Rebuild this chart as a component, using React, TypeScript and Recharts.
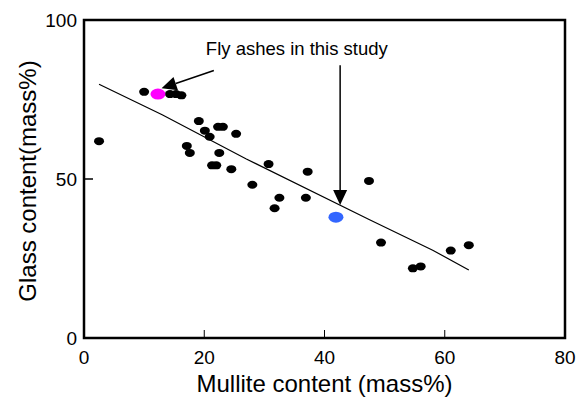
import React from 'react';
import {
  ScatterChart,
  Scatter,
  XAxis,
  YAxis,
  ReferenceArea,
  ReferenceLine,
  ReferenceDot,
} from 'recharts';

// literature fly ashes
const mulliteX = [2.5, 10, 14.3, 15.3, 16.2, 19.1, 20.1, 20.9, 22.3, 23.1, 25.3, 17.1, 17.6, 22.5, 21.3, 22.0, 24.5, 30.7, 28, 32.5, 31.7, 37.2, 36.9, 47.4, 49.4, 54.7, 56, 61, 64];
const glassY = [61.9, 77.4, 76.7, 76.7, 76.3, 68.2, 65.2, 63.3, 66.4, 66.4, 64.2, 60.4, 58.2, 58.2, 54.3, 54.3, 53.1, 54.7, 48.2, 44.1, 40.8, 52.3, 44.1, 49.4, 30, 21.9, 22.5, 27.5, 29.2];

// fly ashes in this study
const studyX = [12.3, 41.9];
const studyY = [76.7, 38.0];
const studyColors = ['#ff00ff', '#3366ff'];

// regression line
const fitX = [2.5, 13, 27, 47.5, 58, 64];
const fitY = [79.8, 70.2, 56.3, 37.2, 27.6, 21.4];

const xTicks = [0, 20, 40, 60, 80];
const yTicks = [0, 50, 100];

const points = mulliteX.map((x, i) => ({ x, y: glassY[i] }));
const study = studyX.map((x, i) => ({ x, y: studyY[i], color: studyColors[i] }));
const fit = fitX.map((x, i) => ({ x, y: fitY[i] }));

const FONT = 'Liberation Sans, Arial, sans-serif';

const Dot = (props: any) => (
  <ellipse cx={props.cx} cy={props.cy} rx={5} ry={4} fill="#000" />
);

const BigDot = (props: any) => (
  <ellipse cx={props.cx} cy={props.cy} rx={7.5} ry={5.5} fill={props.payload.color} />
);

const XTick = (props: any) => {
  const { x, y, payload } = props;
  const v = payload.value;
  return (
    <g>
      {v > 0 && v < 80 && <line x1={x} y1={y} x2={x} y2={y - 8} stroke="#000" strokeWidth={1} />}
      <text x={x} y={y + 26} textAnchor="middle" fontSize={19} fontFamily={FONT} fill="#000">
        {v}
      </text>
    </g>
  );
};

const YTick = (props: any) => {
  const { x, y, payload } = props;
  const v = payload.value;
  return (
    <g>
      {v > 0 && v < 100 && <line x1={x} y1={y} x2={x + 9} y2={y} stroke="#000" strokeWidth={1.5} />}
      <text x={x - 7} y={y + 7} textAnchor="end" fontSize={19} fontFamily={FONT} fill="#000">
        {v}
      </text>
    </g>
  );
};

const Arrow = (props: any) => {
  const { x1, y1, x2, y2 } = props;
  const dx = x2 - x1;
  const dy = y2 - y1;
  const len = Math.sqrt(dx * dx + dy * dy);
  const ux = dx / len;
  const uy = dy / len;
  const hl = 15;
  const hw = 7;
  const bx = x2 - ux * hl;
  const by = y2 - uy * hl;
  return (
    <g>
      <line x1={x1} y1={y1} x2={bx} y2={by} stroke="#000" strokeWidth={1.5} />
      <polygon
        points={`${x2},${y2} ${bx - uy * hw},${by + ux * hw} ${bx + uy * hw},${by - ux * hw}`}
        fill="#000"
      />
    </g>
  );
};

export default function App() {
  return (
    <div style={{ position: 'absolute', left: 0, top: 0, background: '#fff' }}>
      <ScatterChart width={586} height={398} margin={{ top: 20, right: 21, bottom: 20, left: 24 }}>
        <XAxis
          type="number"
          dataKey="x"
          domain={[0, 80]}
          ticks={xTicks}
          tickLine={false}
          tickSize={0}
          tickMargin={0}
          height={40}
          axisLine={false}
          tick={<XTick />}
          allowDataOverflow
        />
        <YAxis
          type="number"
          dataKey="y"
          domain={[0, 100]}
          ticks={yTicks}
          tickLine={false}
          tickSize={0}
          tickMargin={0}
          width={60}
          axisLine={false}
          tick={<YTick />}
          allowDataOverflow
        />
        <ReferenceArea x1={0} x2={80} y1={0} y2={100} fill="none" stroke="#000" strokeWidth={2.5} fillOpacity={0} />
        <Scatter data={fit} line={{ stroke: '#000', strokeWidth: 1.2 }} shape={() => null} isAnimationActive={false} />
        <Scatter data={points} shape={<Dot />} isAnimationActive={false} />
        <Scatter data={study} shape={<BigDot />} isAnimationActive={false} />
        <ReferenceLine segment={[{ x: 21.6, y: 84.1 }, { x: 12.9, y: 78.5 }]} shape={<Arrow />} />
        <ReferenceLine segment={[{ x: 42.6, y: 85.8 }, { x: 42.6, y: 41.8 }]} shape={<Arrow />} />
        <ReferenceDot
          x={35.4}
          y={91.2}
          r={0}
          fill="none"
          stroke="none"
          label={{ value: 'Fly ashes in this study', position: 'center', fontSize: 18.5, fontFamily: FONT, fill: '#000' }}
        />
      </ScatterChart>
      <div
        style={{
          position: 'absolute',
          left: 0,
          top: 371,
          width: 586,
          paddingLeft: 63,
          boxSizing: 'border-box',
          textAlign: 'center',
          fontFamily: FONT,
          fontSize: 24,
          lineHeight: '26px',
        }}
      >
        Mullite content (mass%)
      </div>
      <div
        style={{
          position: 'absolute',
          left: 28,
          top: 181,
          transform: 'translate(-50%, -50%) rotate(-90deg)',
          whiteSpace: 'nowrap',
          fontFamily: FONT,
          fontSize: 24,
          lineHeight: '26px',
        }}
      >
        Glass content(mass%)
      </div>
    </div>
  );
}
